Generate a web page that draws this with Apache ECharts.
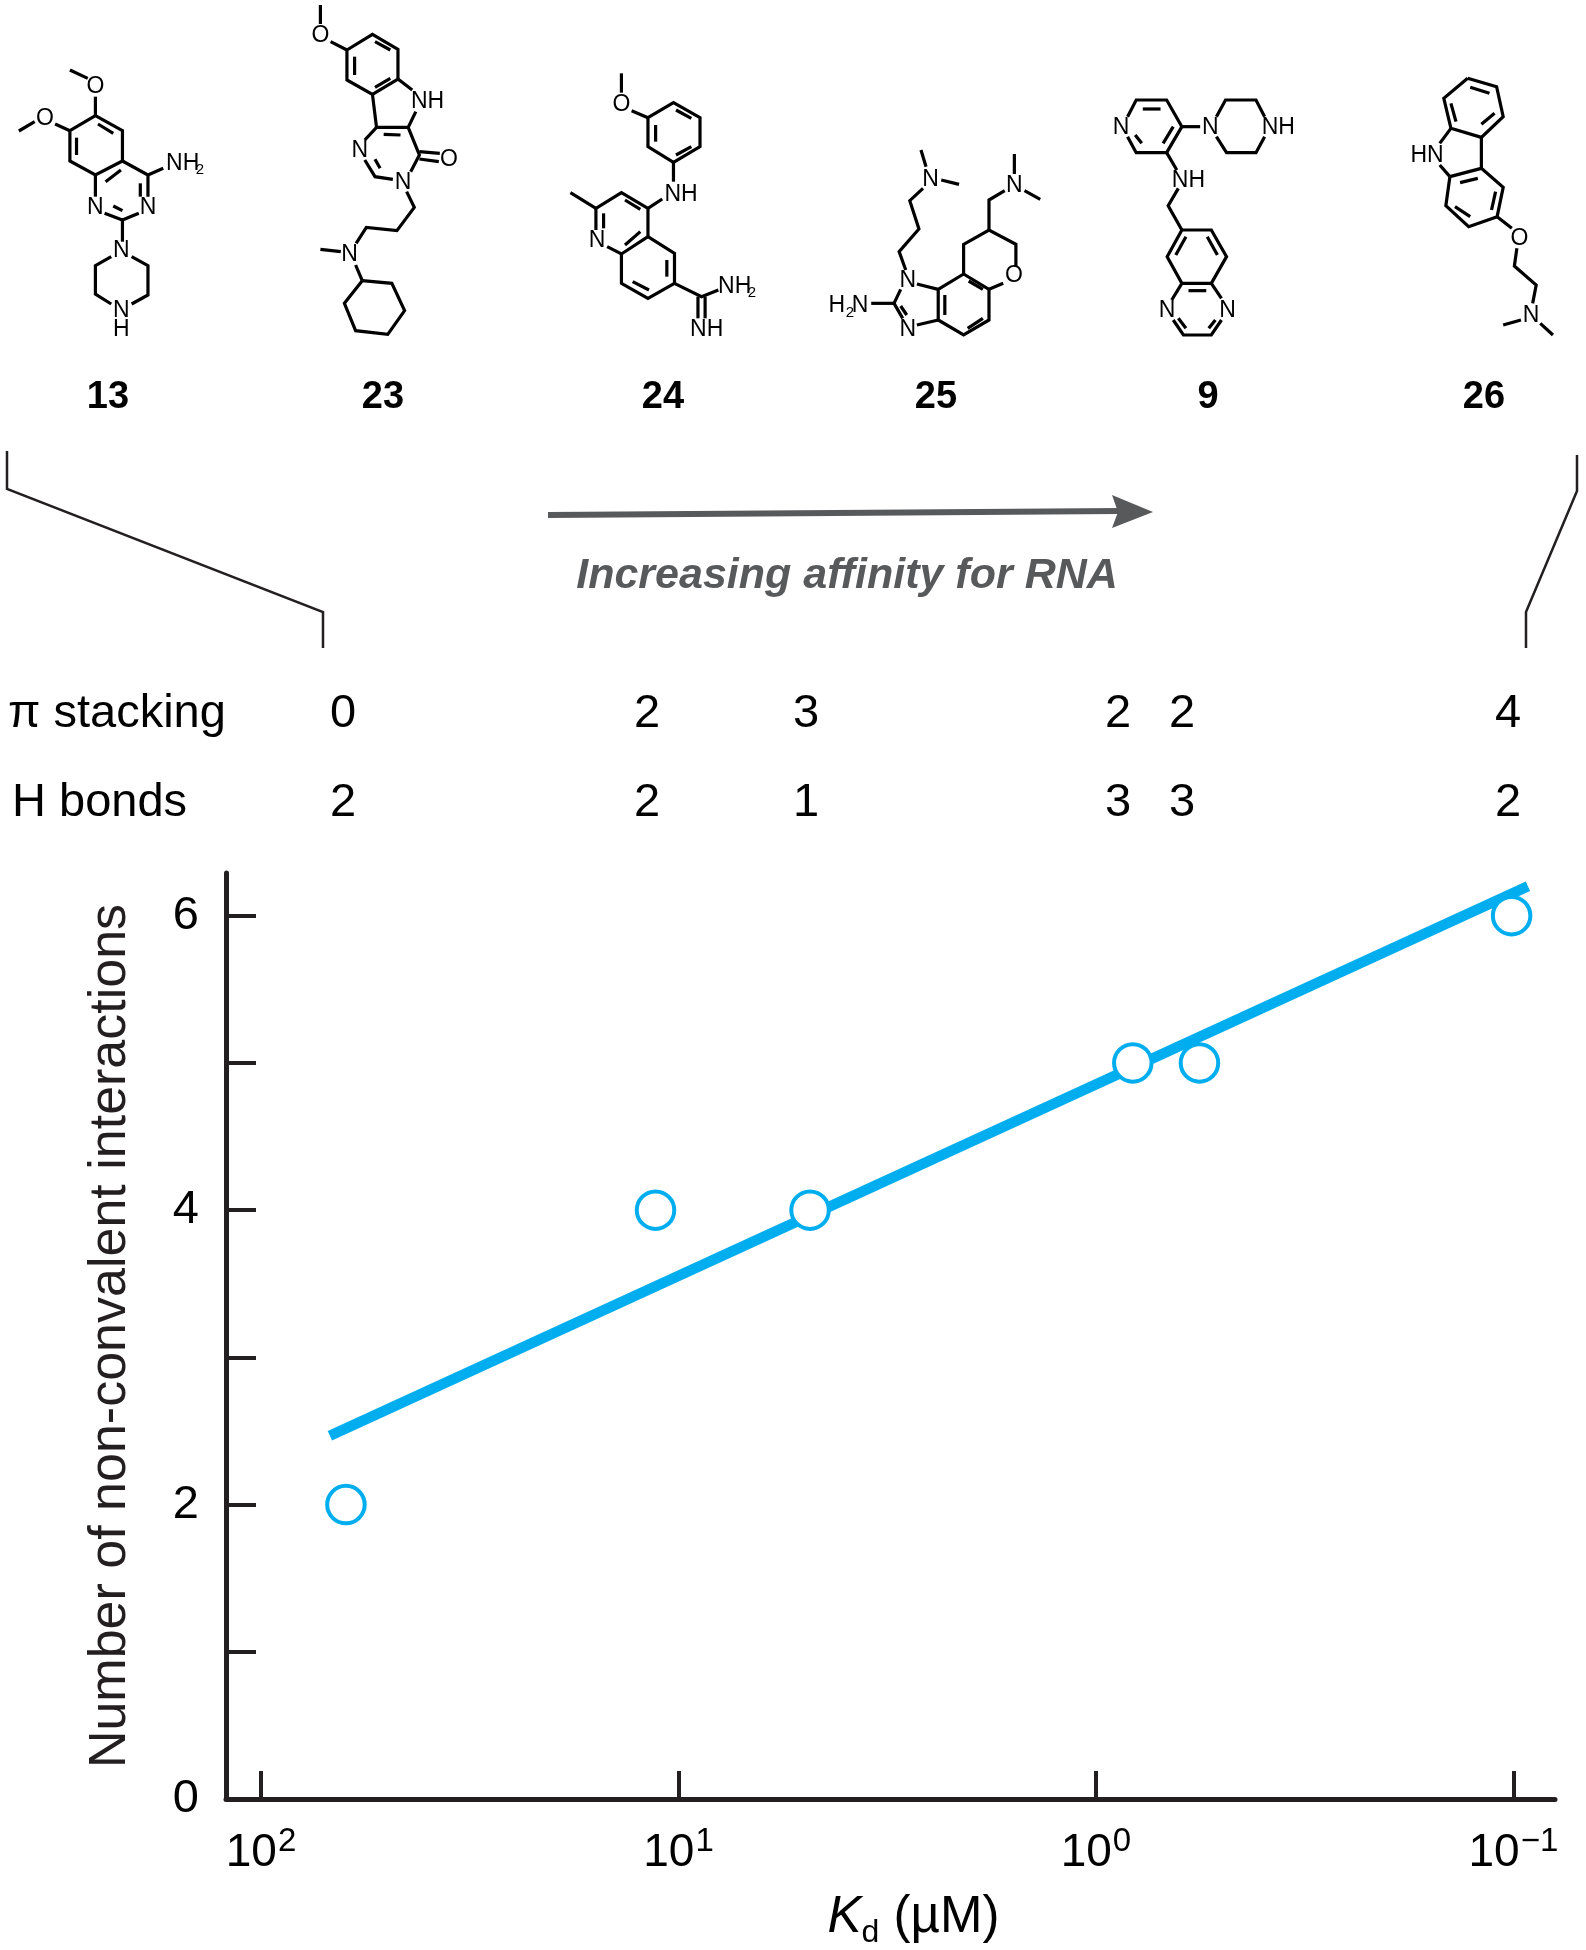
<!DOCTYPE html>
<html>
<head>
<meta charset="utf-8">
<style>
  html, body { margin: 0; padding: 0; background: #fff; }
  #chart { width: 1586px; height: 1950px; }
</style>
</head>
<body>
<div id="chart"></div>
<script src="https://cdn.jsdelivr.net/npm/echarts@6/dist/echarts.min.js"></script>
<script>
// values
const compounds = ["13", "23", "24", "25", "9", "26"];
const kdValues = [62.6, 11.35, 4.84, 0.816, 0.565, 0.101];
const interactionCounts = [2, 4, 4, 5, 5, 6];
const fitKd = [68.4, 0.0923];
const fitCounts = [2.467, 6.2];
const piStacking = ["0", "2", "3", "2", "2", "4"];
const hBonds = ["2", "2", "1", "3", "3", "2"];
const xTickValues = [100, 10, 1, 0.1];
const yTickValues = [0, 1, 2, 3, 4, 5, 6];
const yLabelValues = [0, 2, 4, 6];

const FONT = "Liberation Sans";
const INK = "#231f20";
const BLUE = "#00aeef";
const GREY = "#58595b";

// page layout of the stuff above the plot
const compoundX = [108, 383, 663, 936, 1208, 1484];
const tableX = [343, 647, 806, 1118, 1182, 1508];

const leftCrop = { ox: 0, sx: 1.96 };
const rightCrop = { ox: 790, sx: 1.97 };

const structures = [
  { // 13
    crop: leftCrop,
    bonds: [
      [137, 210, 172, 235], [187, 290, 187, 347], [108, 372, 137, 392], [68, 365, 37, 393],
      [187, 347, 240, 392, 240, 483, 187, 525, 137, 483, 137, 392, 187, 347],
      [150, 413, 150, 465], [192, 372, 222, 400], [237, 510, 207, 545],
      [240, 483, 290, 525, 290, 590], [187, 525, 187, 590], [205, 640, 240, 660, 272, 640],
      [222, 618, 240, 632], [275, 550, 275, 590], [290, 525, 320, 505], [240, 660, 240, 725],
      [218, 770, 187, 797, 187, 882, 218, 912], [258, 912, 290, 885, 290, 797, 258, 770]
    ],
    atoms: [
      ["O", 187, 258], ["O", 88, 352], ["NH", 358, 487], ["2", 392, 507, 15], ["N", 187, 620],
      ["N", 290, 620], ["N", 238, 750], ["N", 238, 930], ["H", 238, 985]
    ]
  },
  { // 23
    crop: leftCrop,
    bonds: [
      [628, 15, 628, 72], [648, 125, 680, 150],
      [680, 150, 730, 103, 780, 148, 780, 237, 730, 283, 680, 240, 680, 150],
      [735, 125, 765, 150], [695, 170, 695, 225], [735, 262, 765, 235],
      [780, 237, 808, 270], [815, 335, 800, 382, 738, 382, 730, 283], [752, 403, 785, 405],
      [738, 382, 715, 420], [715, 480, 735, 530, 770, 538], [735, 478, 745, 505],
      [805, 515, 822, 465, 800, 382], [822, 455, 862, 460], [822, 477, 860, 485],
      [797, 575, 812, 622, 778, 692, 718, 682, 698, 730], [628, 748, 668, 755], [697, 795, 710, 842],
      [710, 842, 768, 850, 793, 932, 760, 1003, 697, 992, 675, 910, 710, 842]
    ],
    atoms: [
      ["O", 628, 105], ["NH", 838, 302], ["N", 705, 450], ["N", 790, 545], ["O", 880, 475], ["N", 685, 760]
    ]
  },
  { // 24
    crop: leftCrop,
    bonds: [
      [1218, 220, 1218, 278], [1238, 332, 1270, 353],
      [1270, 353, 1320, 308, 1372, 353, 1372, 440, 1320, 487, 1270, 440, 1270, 353],
      [1325, 330, 1355, 355], [1285, 375, 1285, 425], [1325, 465, 1355, 440],
      [1320, 487, 1320, 545], [1298, 597, 1270, 625],
      [1168, 690, 1168, 625, 1218, 578, 1270, 625, 1270, 710, 1218, 762, 1190, 740],
      [1168, 625, 1118, 578], [1225, 600, 1255, 628], [1183, 640, 1183, 685], [1225, 735, 1255, 695],
      [1270, 710, 1322, 760, 1322, 850, 1270, 895, 1218, 850, 1218, 762],
      [1307, 780, 1307, 830], [1272, 870, 1240, 845],
      [1322, 850, 1375, 890, 1408, 870], [1368, 890, 1368, 955], [1382, 890, 1382, 955]
    ],
    atoms: [
      ["O", 1218, 312], ["NH", 1335, 580], ["N", 1170, 718], ["NH", 1440, 857], ["2", 1474, 877, 15], ["NH", 1385, 985]
    ]
  },
  { // 25
    crop: rightCrop,
    bonds: [
      [258, 450, 268, 500], [298, 540, 333, 553], [262, 565, 236, 602, 254, 687, 215, 755, 228, 810],
      [250, 852, 292, 868], [292, 960, 250, 975], [222, 955, 205, 910, 218, 868], [218, 918, 230, 945],
      [160, 910, 205, 910],
      [292, 868, 342, 822, 392, 868, 392, 960, 342, 1005, 292, 960, 292, 868],
      [305, 885, 305, 945], [352, 843, 380, 868], [350, 985, 380, 955],
      [342, 822, 342, 733, 392, 690, 445, 733, 445, 800], [420, 850, 392, 868],
      [392, 690, 392, 600, 423, 572], [442, 462, 442, 522], [462, 572, 493, 598]
    ],
    atoms: [
      ["N", 277, 537], ["N", 232, 840], ["N", 232, 985], ["H", 92, 915], ["2", 118, 935, 15], ["N", 138, 915],
      ["O", 441, 825], ["N", 442, 553]
    ]
  },
  { // 9
    crop: rightCrop,
    bonds: [
      [665, 350, 682, 300, 742, 300, 772, 380, 742, 458, 682, 458, 665, 410],
      [695, 327, 730, 327], [755, 380, 735, 430], [680, 405, 693, 430],
      [772, 380, 808, 380], [840, 350, 858, 300, 918, 300, 935, 350], [935, 410, 918, 458, 860, 458, 840, 410],
      [742, 458, 762, 510], [765, 565, 745, 617, 772, 690],
      [772, 690, 830, 690, 860, 770, 830, 850, 772, 850, 743, 770, 772, 690],
      [780, 710, 760, 765], [822, 710, 842, 765], [785, 872, 820, 872],
      [772, 850, 752, 900], [755, 960, 775, 1005, 830, 1005, 850, 960], [850, 895, 830, 850],
      [765, 955, 780, 985], [838, 960, 825, 985]
    ],
    atoms: [
      ["N", 652, 380], ["N", 828, 380], ["NH", 962, 380], ["NH", 785, 540], ["N", 743, 930], ["N", 862, 930]
    ]
  },
  { // 26
    crop: rightCrop,
    bonds: [
      [1335, 235, 1392, 260, 1405, 350, 1362, 412, 1302, 385, 1288, 295, 1335, 235],
      [1340, 262, 1378, 280], [1388, 340, 1362, 373], [1302, 310, 1312, 365],
      [1362, 412, 1362, 505], [1302, 385, 1280, 430], [1280, 495, 1300, 530],
      [1300, 530, 1362, 505, 1405, 562, 1393, 650, 1337, 680, 1292, 617, 1300, 530],
      [1320, 548, 1355, 535], [1390, 575, 1382, 630], [1340, 650, 1310, 620],
      [1393, 650, 1422, 685], [1432, 745, 1427, 798, 1470, 855, 1463, 910], [1440, 960, 1405, 975], [1478, 970, 1503, 1005]
    ],
    atoms: [["HN", 1255, 465], ["O", 1437, 712], ["N", 1460, 945]]
  }
];

function textEl(text, x, y, size, extra) {
  return {
    type: "text",
    x: x,
    y: y,
    silent: true,
    style: Object.assign({
      text: text,
      font: size + "px '" + FONT + "'",
      fill: "#000",
      align: "center",
      verticalAlign: "middle"
    }, extra || {})
  };
}

function lineEl(points, color, width) {
  return {
    type: "polyline",
    silent: true,
    shape: { points: points },
    style: { stroke: color, lineWidth: width, fill: null, lineJoin: "miter" }
  };
}

function buildGraphics() {
  const els = [];

  structures.forEach(function (mol) {
    const c = mol.crop;
    mol.bonds.forEach(function (b) {
      const pts = [];
      for (let i = 0; i < b.length; i += 2) {
        pts.push([c.ox + b[i] / c.sx, b[i + 1] / 3]);
      }
      els.push(lineEl(pts, "#000", 3.2));
    });
    mol.atoms.forEach(function (a) {
      els.push(textEl(a[0], c.ox + a[1] / c.sx, a[2] / 3 + 1, a[3] || 23));
    });
  });

  compounds.forEach(function (name, i) {
    els.push(textEl(name, compoundX[i], 398, 38, { font: "bold 38px '" + FONT + "'" }));
  });

  // brackets
  els.push(lineEl([[7, 451], [7, 489], [323, 612], [323, 648]], INK, 2.5));
  els.push(lineEl([[1577, 455], [1577, 491], [1526, 612], [1526, 648]], INK, 2.5));

  // arrow
  els.push(lineEl([[548, 515], [1120, 511]], GREY, 6));
  els.push({
    type: "polygon",
    silent: true,
    shape: { points: [[1112, 495], [1153, 512], [1112, 528], [1118, 512]] },
    style: { fill: GREY }
  });
  els.push(textEl("Increasing affinity for RNA", 847, 576, 43, {
    font: "italic bold 43px '" + FONT + "'",
    fill: GREY
  }));

  // interaction table
  els.push(textEl("π stacking", 8, 714, 47, { align: "left" }));
  els.push(textEl("H bonds", 12, 803, 47, { align: "left" }));
  tableX.forEach(function (x, i) {
    els.push(textEl(piStacking[i], x, 714, 47));
    els.push(textEl(hBonds[i], x, 803, 47));
  });

  return els;
}

const chart = echarts.init(document.getElementById("chart"), null, { renderer: "canvas" });

chart.setOption({
  animation: false,
  backgroundColor: "#fff",
  textStyle: { fontFamily: FONT },
  grid: { left: 226, right: 31, top: 873, bottom: 149 },
  xAxis: {
    type: "log",
    logBase: 10,
    inverse: true,
    min: 0.0795,
    max: 121.3,
    splitLine: { show: false },
    minorTick: { show: false },
    axisLine: { lineStyle: { color: INK, width: 5 } },
    axisTick: { inside: true, length: 28, customValues: xTickValues, lineStyle: { color: INK, width: 4 } },
    axisLabel: {
      customValues: xTickValues,
      margin: 26,
      hideOverlap: false,
      formatter: function (v) {
        const exp = Math.round(Math.log10(v));
        return "{base|10}{exp|" + String(exp).replace("-", "−") + "}";
      },
      rich: {
        base: { fontFamily: FONT, fontSize: 46, color: "#000" },
        exp: { fontFamily: FONT, fontSize: 33, color: "#000", padding: [0, 0, 24, 1] }
      }
    },
    name: "{k|K}{d|d}{u| (µM)}",
    nameLocation: "middle",
    nameGap: 88,
    nameTextStyle: {
      padding: [0, 0, 0, 46],
      rich: {
        k: { fontFamily: FONT, fontSize: 51, fontStyle: "italic", color: "#000" },
        d: { fontFamily: FONT, fontSize: 32, color: "#000", padding: [30, 0, 0, 0] },
        u: { fontFamily: FONT, fontSize: 51, color: "#000" }
      }
    }
  },
  yAxis: {
    type: "value",
    min: 0,
    max: 6.29,
    splitLine: { show: false },
    axisLine: { lineStyle: { color: INK, width: 5 } },
    axisTick: { inside: true, length: 30, customValues: yTickValues, lineStyle: { color: INK, width: 4 } },
    axisLabel: {
      customValues: yLabelValues,
      margin: 27,
      fontFamily: FONT,
      fontSize: 47,
      color: "#000",
      padding: [4, 0, 0, 0]
    },
    name: "Number of non-convalent interactions",
    nameLocation: "middle",
    nameGap: 89,
    nameTextStyle: { fontFamily: FONT, fontSize: 52, color: INK }
  },
  series: [
    {
      type: "line",
      name: "fit",
      data: fitKd.map(function (k, i) { return [k, fitCounts[i]]; }),
      showSymbol: false,
      symbol: "none",
      clip: false,
      z: 2,
      lineStyle: { color: BLUE, width: 10.5, cap: "butt" }
    },
    {
      type: "scatter",
      name: "compounds",
      data: kdValues.map(function (k, i) { return [k, interactionCounts[i]]; }),
      symbol: "circle",
      symbolSize: 37.5,
      clip: false,
      z: 3,
      itemStyle: { color: "#fff", borderColor: BLUE, borderWidth: 4, opacity: 1 }
    }
  ],
  graphic: { elements: buildGraphics() }
});
</script>
</body>
</html>
